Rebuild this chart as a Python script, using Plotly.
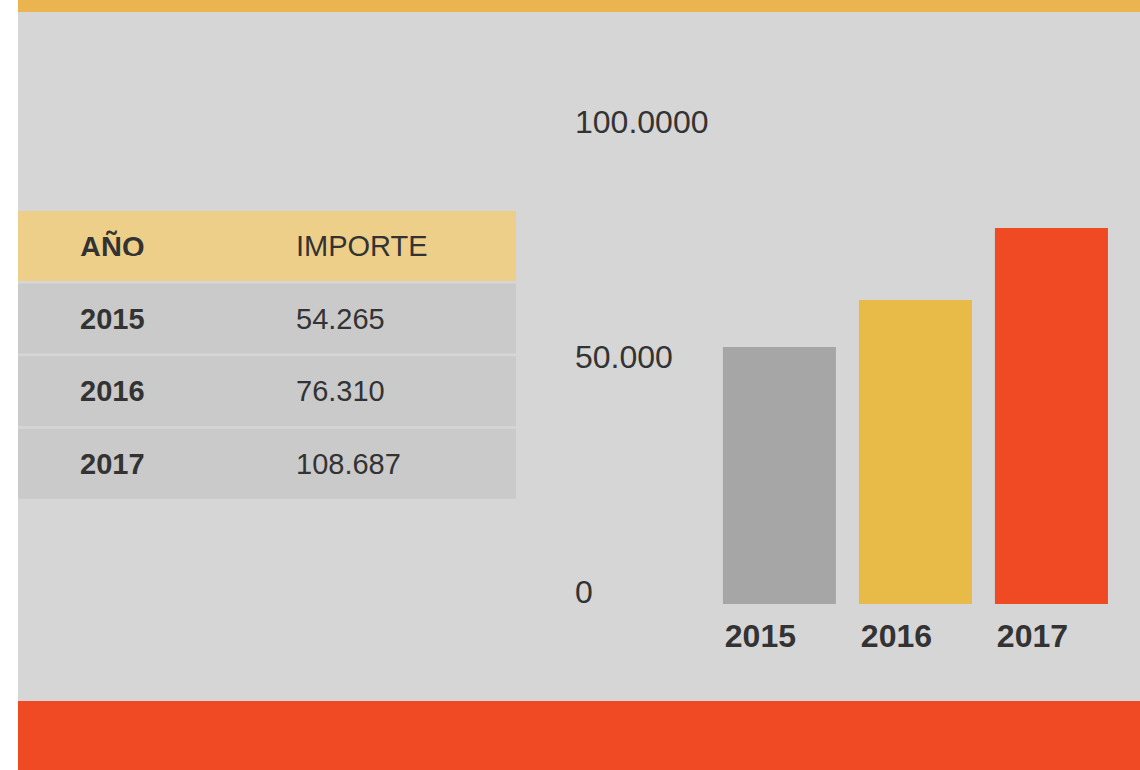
import plotly.graph_objects as go

# ---------------- data ----------------
header = ["AÑO", "IMPORTE"]
years = ["2015", "2016", "2017"]
importe = ["54.265", "76.310", "108.687"]
bar_values = [54.7, 64.7, 80.0]          # bar heights as drawn in the chart
y_tick_values = [0, 50, 100]
y_tick_labels = ["0", "50.000", "100.0000"]

# ---------------- style / layout constants ----------------
W, H = 1140, 770
BG = "#D6D6D6"
TOP_BAND = "#EAB551"
BOTTOM_BAND = "#F04A24"
HEADER_FILL = "#EECF8A"
ROW_FILL = "#CACACA"
BAR_COLORS = ["#A6A6A6", "#E8BA48", "#F04A24"]
TEXT = "#333333"
FONT = "Liberation Sans, Arial, Helvetica, sans-serif"

STRIP_LEFT = 18          # white strip at left
TOP_BAND_H = 12
BOTTOM_BAND_TOP = 701

# table geometry (px)
TABLE_LEFT, TABLE_RIGHT = 18, 516
TABLE_TOP, ROW_PITCH, ROW_H = 209.7, 72.6, 70
SEG_WIDTHS = [59, 216, 223]   # left padding, column 1, column 2

# chart geometry (px)
CH_LEFT, CH_RIGHT = 572, 1140
CH_TOP, CH_BOTTOM = 80, 604
PX_PER_UNIT = 4.7
BAR_W = 0.831


def fx(px):
    return px / W


def fy(px):
    return 1 - px / H


fig = go.Figure()

# ---------------- table (rows as full-width horizontal bands) ----------------
col_texts = [[header[0]] + years, [header[1]] + importe]
n_rows = len(col_texts[0])
rows = list(range(n_rows))
row_fill = [HEADER_FILL] + [ROW_FILL] * (n_rows - 1)

base = 0
seg_texts = [None, col_texts[0], col_texts[1]]
seg_weights = [None, "bold", "normal"]
for w, txt, wt in zip(SEG_WIDTHS, seg_texts, seg_weights):
    fig.add_trace(go.Bar(
        orientation="h",
        y=rows,
        x=[w] * n_rows,
        base=[base] * n_rows,
        width=ROW_H / ROW_PITCH,
        marker=dict(color=row_fill, line=dict(width=0)),
        text=txt,
        textposition="inside" if txt else "none",
        insidetextanchor="start",
        textangle=0,
        constraintext="none",
        insidetextfont=dict(family=FONT, size=29, color=TEXT,
                            weight=wt if wt else "normal"),
        xaxis="x2", yaxis="y2",
        hoverinfo="skip", showlegend=False,
    ))
    base += w

# ---------------- bar chart ----------------
fig.add_trace(go.Bar(
    x=years,
    y=bar_values,
    width=BAR_W,
    marker=dict(color=BAR_COLORS, line=dict(width=0)),
    xaxis="x", yaxis="y",
    hoverinfo="skip", showlegend=False,
))

y_max = (CH_BOTTOM - CH_TOP) / PX_PER_UNIT

fig.update_layout(
    width=W, height=H,
    margin=dict(l=0, r=0, t=0, b=0),
    paper_bgcolor="white",
    plot_bgcolor="rgba(0,0,0,0)",
    barmode="overlay",
    showlegend=False,
    xaxis=dict(
        domain=[fx(CH_LEFT), fx(CH_RIGHT)],
        type="category",
        range=[-1.525, 2.651],
        showgrid=False, zeroline=False, showline=False, ticks="",
        tickfont=dict(family=FONT, size=32, color=TEXT, weight="bold"),
        ticklabelshift=-19,
        ticklabelstandoff=10,
        automargin=False, fixedrange=True,
    ),
    yaxis=dict(
        domain=[fy(CH_BOTTOM), fy(CH_TOP)],
        range=[0, y_max],
        tickvals=y_tick_values,
        ticktext=y_tick_labels,
        ticklabelposition="inside",
        ticklabeloverflow="allow",
        ticklabelshift=-12,
        showgrid=False, zeroline=False, showline=False, ticks="",
        tickfont=dict(family=FONT, size=32, color=TEXT),
        automargin=False, fixedrange=True,
    ),
    xaxis2=dict(
        domain=[fx(TABLE_LEFT), fx(TABLE_RIGHT)],
        range=[0, TABLE_RIGHT - TABLE_LEFT],
        visible=False, anchor="y2", fixedrange=True,
    ),
    yaxis2=dict(
        domain=[fy(TABLE_TOP + ROW_PITCH * n_rows), fy(TABLE_TOP)],
        range=[n_rows - 0.5, -0.5],
        visible=False, anchor="x2", fixedrange=True,
    ),
    shapes=[
        dict(type="rect", xref="paper", yref="paper", layer="below",
             x0=fx(STRIP_LEFT), x1=1, y0=0, y1=1,
             fillcolor=BG, line=dict(width=0)),
        dict(type="rect", xref="paper", yref="paper", layer="below",
             x0=fx(STRIP_LEFT), x1=1, y0=fy(TOP_BAND_H), y1=1,
             fillcolor=TOP_BAND, line=dict(width=0)),
        dict(type="rect", xref="paper", yref="paper", layer="below",
             x0=fx(STRIP_LEFT), x1=1, y0=0, y1=fy(BOTTOM_BAND_TOP),
             fillcolor=BOTTOM_BAND, line=dict(width=0)),
    ],
)

fig.write_html(
    "out.html",
    config={"displayModeBar": False},
    post_script="document.body.style.margin='0';",
)
